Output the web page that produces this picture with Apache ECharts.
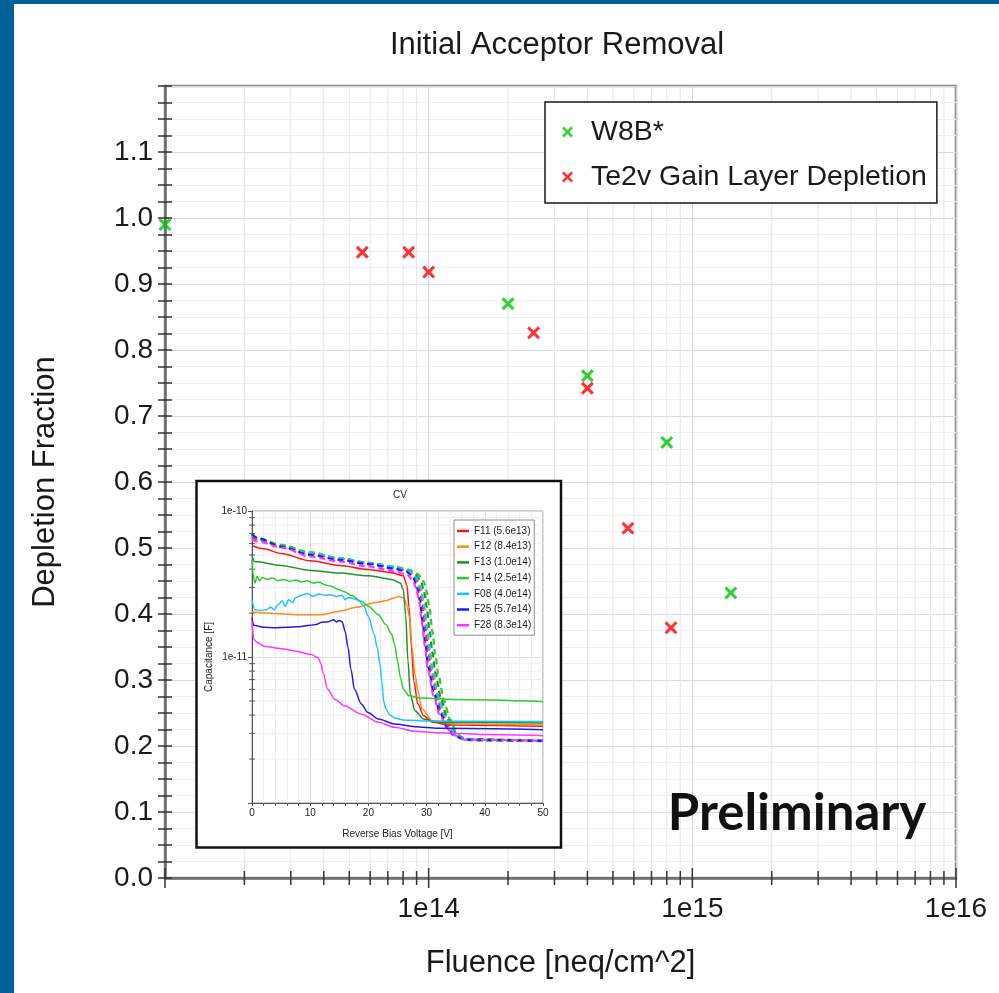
<!DOCTYPE html>
<html>
<head>
<meta charset="utf-8">
<script src="https://cdn.jsdelivr.net/npm/echarts@6/dist/echarts.min.js"></script>
<style>
  html, body { margin: 0; padding: 0; background: #fff; }
  #chart { width: 999px; height: 993px; }
</style>
</head>
<body>
<div id="chart"></div>
<script>
// ---- Depletion fraction vs. fluence ----
const w8bFluence  = [1.0e13, 2.0e14, 4.0e14, 8.0e14, 1.4e15];
const w8bFraction = [0.99, 0.87, 0.761, 0.66, 0.432];
const te2vFluence  = [5.6e13, 8.4e13, 1.0e14, 2.5e14, 4.0e14, 5.7e14, 8.3e14];
const te2vFraction = [0.948, 0.948, 0.918, 0.826, 0.742, 0.53, 0.379];

// Log-axis tick positions (main fluence axis and inset capacitance axis)
const fluenceDecades = [1e13, 1e14, 1e15, 1e16];
const fluenceMinor = [2e13, 3e13, 4e13, 5e13, 6e13, 7e13, 8e13, 9e13,
                      2e14, 3e14, 4e14, 5e14, 6e14, 7e14, 8e14, 9e14,
                      2e15, 3e15, 4e15, 5e15, 6e15, 7e15, 8e15, 9e15];
const capMinor = [2e-12, 3e-12, 4e-12, 5e-12, 6e-12, 7e-12, 8e-12, 9e-12,
                  2e-11, 3e-11, 4e-11, 5e-11, 6e-11, 7e-11, 8e-11, 9e-11];

// ---- Inset: CV curves, [bias voltage V, capacitance pF] ----
const cvNames = ['F11 (5.6e13)', 'F12 (8.4e13)', 'F13 (1.0e14)', 'F14 (2.5e14)',
                 'F08 (4.0e14)', 'F25 (5.7e14)', 'F28 (8.3e14)'];
const cvColors = ['#ff1414', '#ff8a1c', '#249024', '#2ecb2e', '#1cc4f6', '#1a1aff', '#ff36ff'];

// irradiated sensors (solid)
const cvF11 = [[0,58.0],[2,55.1],[5,51.2],[10,45.6],[15,42.4],[20,39.8],[24,37.8],[26,36.0],[26.6,31.3],[27,21.7],[27.4,11.6],[27.8,6.86],[28.5,4.76],[29.5,3.96],[31,3.57],[34,3.42],[50,3.35]];
const cvF12 = [[0,20.3],[3,19.95],[8,19.5],[12,19.5],[15,20.6],[18,21.9],[21,23.5],[23,24.3],[24.5,25.4],[25.2,26.0],[26,25.4],[26.6,22.9],[27.1,18.5],[27.5,11.6],[28,7.62],[28.5,5.86],[29.2,4.40],[31,3.66],[35,3.48],[50,3.42]];
const cvF13 = [[0,50.1],[0.4,45.1],[5,42.4],[10,39.2],[15,37.6],[20,36.0],[24,34.0],[25.5,32.1],[26,28.9],[26.4,19.5],[26.8,9.39],[27.2,5.56],[28,4.28],[29.5,3.76],[32,3.57],[50,3.53]];
const cvF14 = [[0,46.3],[0.2,36.6],[0.5,32.1],[0.9,35.7],[1.3,33.3],[1.8,35.1],[2.5,34.0],[3.5,34.7],[4.5,33.3],[5.5,34.0],[6.5,33.0],[7.5,33.7],[8.5,32.6],[9.5,33.3],[10.5,32.1],[11.5,32.6],[12.5,31.3],[13.5,30.6],[15,28.9],[16,27.9],[17,26.5],[18.8,24.1],[20,22.3],[21.7,19.5],[23,16.7],[24,14.3],[24.5,12.2],[25,9.39],[25.5,7.23],[26,6.02],[27,5.42],[29,5.23],[35,5.12],[50,4.96]];
const cvF08 = [[0,24.7],[0.5,21.1],[1.5,20.8],[2.5,21.1],[3.2,21.9],[3.8,21.1],[4.5,22.9],[5.2,24.3],[5.7,22.3],[6.3,24.7],[7,23.5],[7.5,25.6],[8.5,26.5],[9.5,27.2],[10.5,26.0],[11.5,27.0],[12.5,26.5],[13.5,26.7],[14.5,26.0],[15.5,26.5],[16,24.7],[16.5,25.6],[17.5,25.1],[18.5,24.1],[19.2,22.3],[20,19.0],[21,14.3],[21.5,11.6],[22,8.91],[22.3,6.86],[22.6,5.01],[23,4.40],[23.7,4.00],[24.5,3.82],[26,3.70],[30,3.64],[50,3.62]];
const cvF25 = [[0,18.5],[0.3,16.5],[2,16.0],[4,15.85],[6,16.0],[8,16.1],[10,16.5],[11,16.7],[12,17.3],[13,17.4],[14,18.0],[14.5,17.4],[15,17.8],[15.5,17.4],[16,15.0],[16.5,11.6],[17,8.24],[17.6,6.02],[18.8,4.76],[19.9,4.17],[21.7,3.76],[24.5,3.48],[28,3.33],[32,3.25],[50,3.18]];
const cvF28 = [[0,17.6],[0.3,13.2],[1,12.5],[2.2,11.8],[5,11.4],[7.3,11.0],[10.2,10.4],[11.3,9.9],[11.8,9.15],[12.2,7.82],[13,6.02],[14.2,5.14],[15.9,4.63],[18.8,4.06],[21.7,3.57],[24.5,3.30],[28,3.10],[32,3.03],[36,2.99],[40,2.94],[50,2.89]];

// same sensors before irradiation (dashed)
const refF11 = [[0,66.8],[1,63.4],[5,57.1],[10,51.2],[15,47.1],[20,43.7],[24.5,41.1],[27,38.6],[28,35.7],[28.7,31.3],[29.2,24.3],[29.7,17.6],[30.2,11.9],[30.8,8.03],[31.8,5.34],[32.8,3.96],[34,3.21],[35,2.85],[37,2.72],[50,2.68]];
const refF12 = [[0,67.9],[1,64.4],[5,57.1],[10,51.2],[15,47.1],[20,44.2],[24.5,41.1],[27,38.6],[28.2,35.1],[29,29.7],[29.5,22.9],[30,16.3],[30.5,11.3],[31,8.03],[32,5.42],[33,4.06],[34,3.30],[35,2.89],[37,2.72],[50,2.69]];
const refF13 = [[0,68.6],[1,64.4],[5,58.0],[10,51.2],[15,47.1],[20,43.7],[24.5,41.1],[27,38.6],[28,37.0],[29,33.3],[29.5,28.9],[30,22.3],[30.5,15.4],[31,10.7],[31.5,7.82],[32.5,5.14],[33.5,3.86],[34.5,3.21],[35.5,2.85],[37.5,2.69],[50,2.66]];
const refF14 = [[0,69.3],[1,65.1],[5,58.6],[10,52.3],[15,47.6],[20,44.2],[24.5,41.7],[27,39.6],[28.5,37.0],[29.5,33.0],[30,28.2],[30.5,21.7],[31,15.0],[31.5,10.4],[32,7.62],[33,5.01],[34,3.76],[35,3.13],[36,2.82],[38,2.68],[50,2.65]];
const refF08 = [[0,68.6],[1,64.4],[5,57.1],[10,51.2],[15,47.6],[20,44.2],[24.5,41.1],[27,38.6],[28.2,35.1],[29,29.7],[29.6,21.9],[30.1,15.4],[30.6,10.7],[31.1,7.62],[32,5.34],[33,4.00],[34,3.26],[35,2.89],[37,2.72],[50,2.68]];
const refF25 = [[0,69.3],[1,65.1],[5,57.1],[10,50.1],[15,46.3],[20,43.3],[24.5,40.3],[26.5,38.6],[27.7,35.1],[28.3,30.6],[28.8,24.7],[29.3,17.6],[29.8,12.2],[30.3,8.46],[31.3,5.56],[32.3,4.17],[33.5,3.30],[34.5,2.94],[36.5,2.72],[50,2.66]];
const refF28 = [[0,63.4],[1,61.8],[5,56.2],[10,48.8],[15,45.1],[20,41.7],[24.5,38.6],[26.5,37.0],[27.6,34.0],[28.2,29.7],[28.7,24.1],[29.2,17.1],[29.7,11.9],[30.2,8.24],[31.2,5.42],[32.2,4.06],[33.5,3.26],[34.5,2.94],[36.5,2.72],[50,2.67]];

const cvSolid  = [cvF11, cvF12, cvF13, cvF14, cvF08, cvF25, cvF28];
const cvDashed = [refF11, refF12, refF13, refF14, refF08, refF25, refF28];

// ---------------------------------------------------------------
const FONT = '"Liberation Sans", Arial, sans-serif';
const TXT = '#1a1a1a';
const CROSS = 'path://M0,1.7L1.7,0L5,3.3L8.3,0L10,1.7L6.7,5L10,8.3L8.3,10L5,6.7L1.7,10L0,8.3L3.3,5Z';
const pFtoF = pts => pts.map(p => [p[0], p[1] * 1e-12]);
const logLabel = v => '1e' + Math.round(Math.log10(v));

const chart = echarts.init(document.getElementById('chart'), null, { renderer: 'canvas' });

const mainYAxisBase = {
  type: 'value', gridIndex: 0, min: 0, max: 1.2, interval: 0.1, position: 'left', z: 1
};

const series = [];

// main: minor vertical grid lines at 2..9 x decade
series.push({
  type: 'custom', name: 'fluence-minor-grid', coordinateSystem: 'cartesian2d',
  xAxisIndex: 0, yAxisIndex: 0, z: 1, silent: true, clip: false,
  data: fluenceMinor.map(v => [v, 0]),
  renderItem: (params, api) => {
    const b = api.coord([api.value(0), 0]);
    const t = api.coord([api.value(0), 1.2]);
    return { type: 'line', shape: { x1: b[0], y1: b[1], x2: t[0], y2: t[1] },
             style: { stroke: '#e6e6e6', lineWidth: 1 } };
  }
});
// main: x ticks crossing the axis line
series.push({
  type: 'custom', name: 'fluence-ticks', coordinateSystem: 'cartesian2d',
  xAxisIndex: 0, yAxisIndex: 0, z: 4, silent: true, clip: false,
  data: fluenceMinor.map(v => [v, 0, 0]).concat(fluenceDecades.map(v => [v, 0, 1])),
  renderItem: (params, api) => {
    const b = api.coord([api.value(0), 0]);
    const h = api.value(2) ? 10 : 7;
    return { type: 'line', shape: { x1: b[0], y1: b[1] - h, x2: b[0], y2: b[1] + h },
             style: { stroke: '#333', lineWidth: 1.5 } };
  }
});

// main scatter series
series.push({
  type: 'scatter', name: 'W8B*', xAxisIndex: 0, yAxisIndex: 0, z: 5, clip: false,
  symbol: CROSS, symbolSize: 13, itemStyle: { color: '#00c400' },
  data: w8bFluence.map((f, i) => [f, w8bFraction[i]])
});
series.push({
  type: 'scatter', name: 'Te2v Gain Layer Depletion', xAxisIndex: 0, yAxisIndex: 0, z: 5, clip: false,
  symbol: CROSS, symbolSize: 13, itemStyle: { color: '#ff0000' },
  data: te2vFluence.map((f, i) => [f, te2vFraction[i]])
});

// inset: minor horizontal grid lines and y ticks on the log capacitance axis
series.push({
  type: 'custom', name: 'cap-minor-grid', coordinateSystem: 'cartesian2d',
  xAxisIndex: 1, yAxisIndex: 2, z: 11, silent: true, clip: false,
  data: capMinor.map(v => [0, v]),
  renderItem: (params, api) => {
    const l = api.coord([0, api.value(1)]);
    const r = api.coord([50, api.value(1)]);
    return { type: 'line', shape: { x1: l[0], y1: l[1], x2: r[0], y2: r[1] },
             style: { stroke: '#eeeeee', lineWidth: 1 } };
  }
});
series.push({
  type: 'custom', name: 'cap-minor-ticks', coordinateSystem: 'cartesian2d',
  xAxisIndex: 1, yAxisIndex: 2, z: 12, silent: true, clip: false,
  data: capMinor.map(v => [0, v]),
  renderItem: (params, api) => {
    const l = api.coord([0, api.value(1)]);
    return { type: 'line', shape: { x1: l[0] - 3, y1: l[1], x2: l[0] + 3, y2: l[1] },
             style: { stroke: '#555', lineWidth: 1 } };
  }
});

// inset CV curves
cvDashed.forEach((pts, i) => {
  series.push({
    type: 'line', name: cvNames[i] + ' pre', xAxisIndex: 1, yAxisIndex: 2, z: 12,
    symbol: 'none', smooth: 0.3, smoothMonotone: 'x', silent: true,
    lineStyle: { color: cvColors[i], width: 2.2, type: [6, 4] },
    data: pFtoF(pts)
  });
});
cvSolid.forEach((pts, i) => {
  series.push({
    type: 'line', name: cvNames[i], xAxisIndex: 1, yAxisIndex: 2, z: 12,
    symbol: 'none', smooth: 0.3, smoothMonotone: 'x', silent: true,
    itemStyle: { color: cvColors[i] },
    lineStyle: { color: cvColors[i], width: 1.5 },
    data: pFtoF(pts)
  });
});

const option = {
  animation: false,
  backgroundColor: '#ffffff',
  textStyle: { fontFamily: FONT },
  grid: [
    { left: 165, top: 86, width: 791, height: 792, show: true, z: 1,
      backgroundColor: 'transparent', borderColor: '#8a8a8a', borderWidth: 2.5 },
    { left: 252, top: 511, width: 291, height: 292, show: true, z: 11,
      backgroundColor: '#ffffff', borderColor: '#9a9a9a', borderWidth: 1 }
  ],
  xAxis: [
    { type: 'log', logBase: 10, gridIndex: 0, min: 1e13, max: 1e16, z: 1,
      axisLine: { show: true, onZero: false, lineStyle: { color: '#6e6e6e', width: 2.5 } },
      axisTick: { show: false },
      axisLabel: { margin: 17, fontFamily: FONT, fontSize: 28, color: TXT,
                   formatter: v => (v < 2e13 ? '' : logLabel(v)) },
      splitLine: { show: true, lineStyle: { color: '#d6d6d6', width: 1 } },
      name: 'Fluence [neq/cm^2]', nameLocation: 'middle', nameGap: 70,
      nameTextStyle: { fontFamily: FONT, fontSize: 31, color: TXT } },
    { type: 'value', gridIndex: 1, min: 0, max: 50, interval: 10, z: 11,
      axisLine: { show: true, onZero: false, lineStyle: { color: '#555', width: 1 } },
      axisTick: { show: true, length: 3, lineStyle: { color: '#555' } },
      minorTick: { show: true, splitNumber: 5, length: 3, lineStyle: { color: '#555' } },
      axisLabel: { margin: 5, fontFamily: FONT, fontSize: 10, color: '#222' },
      splitLine: { show: true, lineStyle: { color: '#dcdcdc', width: 1 } },
      minorSplitLine: { show: true, lineStyle: { color: '#eeeeee', width: 1 } },
      name: 'Reverse Bias Voltage [V]', nameLocation: 'middle', nameGap: 26,
      nameTextStyle: { fontFamily: FONT, fontSize: 10, color: '#222' } }
  ],
  yAxis: [
    Object.assign({}, mainYAxisBase, {
      axisLine: { show: true, onZero: false, lineStyle: { color: '#6e6e6e', width: 2.5 } },
      axisTick: { show: true, inside: false, length: 7, lineStyle: { color: '#333', width: 1.5 } },
      minorTick: { show: true, splitNumber: 4, length: 7, lineStyle: { color: '#333', width: 1.5 } },
      axisLabel: { margin: 12, fontFamily: FONT, fontSize: 28, color: TXT,
                   showMaxLabel: false, formatter: v => (v > 1.15 ? '' : v.toFixed(1)) },
      splitLine: { show: true, lineStyle: { color: '#dadada', width: 1 } },
      minorSplitLine: { show: true, lineStyle: { color: '#efefef', width: 1 } },
      name: 'Depletion Fraction', nameLocation: 'middle', nameGap: 104, nameRotate: 90,
      nameTextStyle: { fontFamily: FONT, fontSize: 31, color: TXT }
    }),
    Object.assign({}, mainYAxisBase, {
      axisLine: { show: false },
      axisTick: { show: true, inside: true, length: 7, lineStyle: { color: '#333', width: 1.5 } },
      minorTick: { show: true, splitNumber: 4, length: 7, lineStyle: { color: '#333', width: 1.5 } },
      axisLabel: { show: false },
      splitLine: { show: false }
    }),
    { type: 'log', logBase: 10, gridIndex: 1, min: 1e-12, max: 1e-10, z: 11,
      axisLine: { show: true, onZero: false, lineStyle: { color: '#555', width: 1 } },
      axisTick: { show: true, length: 4, lineStyle: { color: '#555' } },
      axisLabel: { margin: 5, fontFamily: FONT, fontSize: 10, color: '#222',
                   formatter: v => (v < 2e-12 ? '' : logLabel(v)) },
      splitLine: { show: true, lineStyle: { color: '#dcdcdc', width: 1 } },
      name: 'Capacitance [F]', nameLocation: 'middle', nameGap: 38, nameRotate: 90,
      nameTextStyle: { fontFamily: FONT, fontSize: 10, color: '#222' } }
  ],
  legend: [
    { orient: 'vertical', left: 545, top: 102, selectedMode: false, z: 6,
      data: ['W8B*', 'Te2v Gain Layer Depletion'],
      itemWidth: 11, itemHeight: 11, itemGap: 15, padding: [15, 10, 11, 17],
      borderColor: '#1a1a1a', borderWidth: 1.5, backgroundColor: '#ffffff',
      textStyle: { fontFamily: FONT, fontSize: 28.5, color: TXT, lineHeight: 30,
                   padding: [0, 0, 0, 13] } },
    { orient: 'vertical', left: 454, top: 520, selectedMode: false, z: 13,
      data: cvNames.map(n => ({ name: n, icon: 'rect' })),
      itemWidth: 12, itemHeight: 2.5, itemGap: 3.7, padding: [5, 3, 4, 3],
      borderColor: '#8c8c8c', borderWidth: 1, backgroundColor: '#ffffff',
      textStyle: { fontFamily: FONT, fontSize: 10, color: TXT, lineHeight: 12 } }
  ],
  graphic: [
    { type: 'rect', z: 30, silent: true, shape: { x: 0, y: 0, width: 14, height: 993 },
      style: { fill: '#006098' } },
    { type: 'rect', z: 30, silent: true, shape: { x: 0, y: 0, width: 999, height: 4 },
      style: { fill: '#006098' } },
    { type: 'rect', z: 10, silent: true, shape: { x: 196.5, y: 481, width: 364.5, height: 366.5 },
      style: { fill: '#ffffff', stroke: '#111111', lineWidth: 2.5 } },
    { type: 'text', z: 20, silent: true, x: 557, y: 45,
      style: { text: 'Initial Acceptor Removal', font: '31px ' + FONT, fill: TXT,
               align: 'center', verticalAlign: 'middle' } },
    { type: 'text', z: 20, silent: true, x: 400, y: 495,
      style: { text: 'CV', font: '10px ' + FONT, fill: '#222',
               align: 'center', verticalAlign: 'middle' } },
    { type: 'text', z: 20, silent: true, x: 797, y: 814,
      style: { text: 'Preliminary', font: 'bold 51px Lato, "Open Sans", sans-serif', fill: '#111',
               align: 'center', verticalAlign: 'middle' } }
  ],
  series: series
};

chart.setOption(option);
</script>
</body>
</html>
